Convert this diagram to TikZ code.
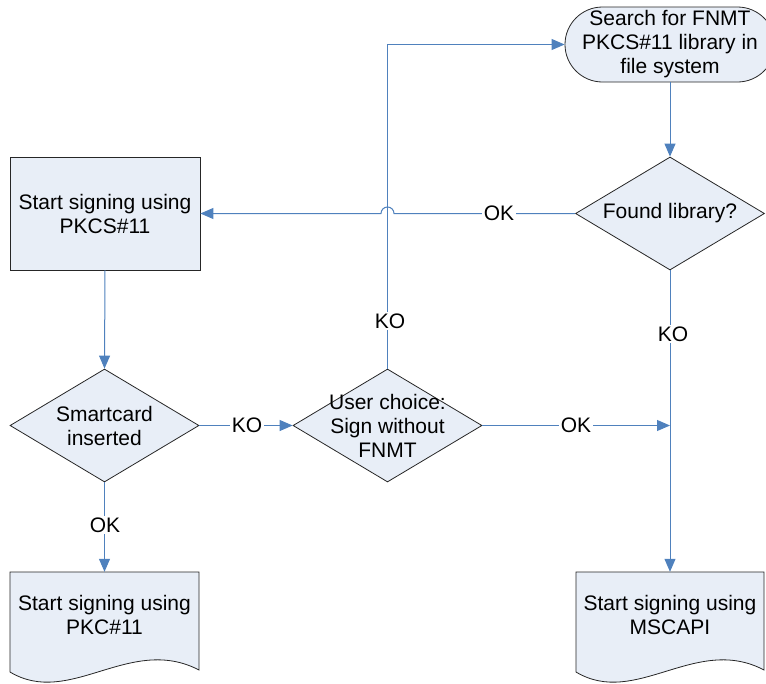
\documentclass[tikz,border=0pt]{standalone}
\usepackage{fontspec}
\setmainfont{Liberation Sans}
\usetikzlibrary{shapes.geometric,arrows.meta}
\definecolor{FlowBlue}{HTML}{4F81BD}
\definecolor{BoxFill}{HTML}{E8EEF7}
\definecolor{BoxEdge}{HTML}{262626}

\begin{document}
\begin{tikzpicture}[x=1pt,y=1pt,font=\fontsize{21}{24}\selectfont,
  box/.style={draw=BoxEdge,fill=BoxFill,line width=0.8pt},
  process/.style={box,rectangle,minimum width=190pt,minimum height=113pt,align=center,inner sep=1pt},
  terminal/.style={box,rectangle,rounded corners=37.5pt,minimum width=210pt,minimum height=75pt,align=center,inner sep=1pt},
  decision/.style={box,diamond,minimum width=189pt,minimum height=113pt,inner sep=0pt},
  txt/.style={align=center,inner sep=1pt},
  flow/.style={draw=FlowBlue,line width=1pt,-{Triangle[length=13pt,width=11pt]}},
  lbl/.style={fill=white,inner sep=1.5pt}]
  \useasboundingbox (0,0) rectangle (766,-683);
  \clip (0,0) rectangle (766,-683);

  % Search (top right)
  \node[terminal] (search) at (670,-44.5) {Search for FNMT\\PKCS\#11 library in\\file system};

  % Found library?
  \node[decision] (found) at (670,-213.5) {};
  \node[txt] (found-txt) at (found) {Found library?};

  % PKCS#11 signing (left)
  \node[process] (pkcs) at (105,-213.5) {Start signing using\\PKCS\#11};

  % Smartcard inserted
  \node[decision] (card) at (104.5,-425.5) {};
  \node[txt] (card-txt) at (card) {Smartcard\\inserted};

  % User choice
  \node[decision] (choice) at (387.5,-425.5) {};
  \node[txt] (choice-txt) at (choice) {User choice:\\Sign without\\FNMT};

  % Documents (bottom)
  \draw[box] (10,-572) -- (199,-572) -- (199,-670) .. controls (130,-634) and (70,-708) .. (10,-672) -- cycle;
  \node[txt,minimum width=189pt,minimum height=85pt] (pkc) at (104.5,-614.5) {Start signing using\\PKC\#11};
  \draw[box] (576,-572) -- (764,-572) -- (764,-670) .. controls (696,-634) and (636,-708) .. (576,-672) -- cycle;
  \node[txt,minimum width=188pt,minimum height=85pt] (mscapi) at (670,-614.5) {Start signing using\\MSCAPI};

  % Connectors
  \draw[flow] (search.south) -- (found.north);
  \draw[flow] (found.west) -- ([xshift=6.5pt]choice.north |- found.west) arc (0:180:6.5) -- (pkcs.east);
  \draw[flow] (pkcs.south) -- (card.north);
  \draw[flow] (card.east) -- (choice.west);
  \draw[flow] (choice.north) |- (search.west);
  \coordinate (merge) at (found.south |- choice.east);
  \draw[flow] (choice.east) -- (merge);
  \draw[flow] (found.south) -- (mscapi.north);
  \draw[flow] (card.south) -- (pkc.north);

  % Labels
  \node[lbl] (ok-lib) at (499,-213.5) {OK};
  \node[lbl] (ko-card) at (247,-425.5) {KO};
  \node[lbl] (ko-choice) at (390,-321) {KO};
  \node[lbl] (ok-choice) at (576,-425.5) {OK};
  \node[lbl] (ko-lib) at (673,-334) {KO};
  \node[lbl] (ok-card) at (105,-525) {OK};
\end{tikzpicture}
\end{document}
